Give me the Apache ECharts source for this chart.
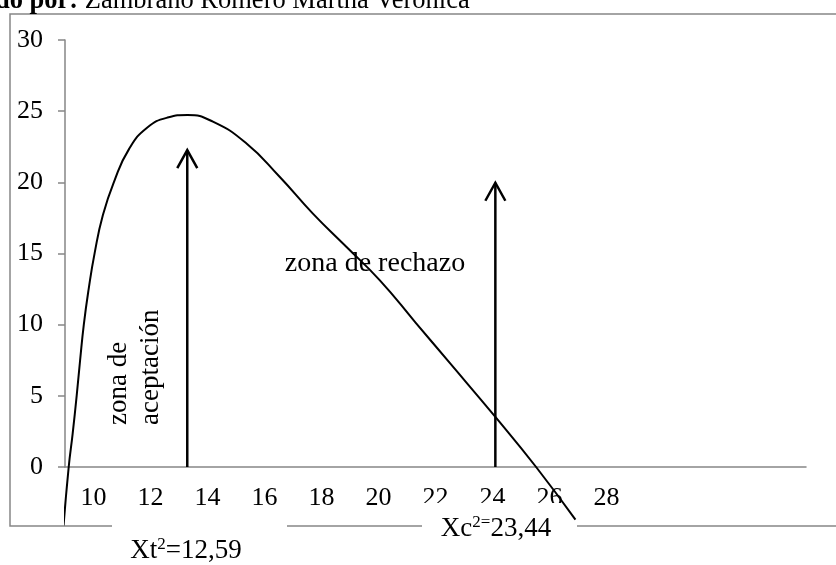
<!DOCTYPE html>
<html>
<head>
<meta charset="utf-8">
<script src="https://cdn.jsdelivr.net/npm/echarts@6/dist/echarts.min.js"></script>
<style>
  html, body { margin: 0; padding: 0; background: #fff; }
  #chart { width: 836px; height: 565px; }
</style>
</head>
<body>
<div id="chart"></div>
<script>
// categorias del eje x (las tres ultimas van vacias)
const categories = ['10', '12', '14', '16', '18', '20', '22', '24', '26', '28', '', '', ''];
// eje y
const yMin = 0, yMax = 30, yStep = 5;
// curva (x en unidades de las etiquetas)
const curveX = [8.95, 9.13, 9.27, 9.41, 9.53, 9.66, 9.83, 10.04, 10.33, 10.72, 11.25, 11.89, 12.6, 13.30, 14.19, 15.36, 16.53, 17.69, 18.87, 20.04, 21.3, 22.5, 24.10, 25.53, 26.91];
const curveY = [-4.1, 0, 2.37, 5.02, 7.5, 10.01, 12.5, 15.03, 17.7, 20.04, 22.35, 23.85, 24.55, 24.73, 24.26, 22.74, 20.39, 17.82, 15.47, 13.13, 10.15, 7.31, 3.52, 0, -3.70];
// flechas verticales
const arrowX = [13.29, 24.10];
const arrowTop = [22.26, 19.97];

const font = '"Liberation Serif", "Times New Roman", serif';
const gray = '#868686';

const chart = echarts.init(document.getElementById('chart'));
const option = {
  animation: false,
  grid: { left: 65, right: 30, top: 40, bottom: 98 },
  xAxis: [
    {
      type: 'category',
      data: categories,
      boundaryGap: true,
      axisLine: { lineStyle: { color: gray, width: 1.5 } },
      axisTick: { length: 7, lineStyle: { color: gray, width: 1.5 } },
      axisLabel: { color: '#000', fontFamily: font, fontSize: 26, margin: 18, interval: 0 },
      splitLine: { show: false }
    },
    {
      // eje oculto para la curva y las flechas
      type: 'value', min: 9, max: 35, show: false
    }
  ],
  yAxis: {
    type: 'value',
    min: yMin, max: yMax, interval: yStep,
    axisLine: { show: true, lineStyle: { color: gray, width: 1.5 } },
    axisTick: { show: true, length: 7, lineStyle: { color: gray, width: 1.5 } },
    axisLabel: { color: '#000', fontFamily: font, fontSize: 26, margin: 22 },
    splitLine: { show: false }
  },
  series: [
    {
      type: 'line',
      xAxisIndex: 1,
      data: curveX.map((x, i) => [x, curveY[i]]),
      smooth: 0.5,
      smoothConstraint: false,
      symbol: 'none',
      clip: false,
      lineStyle: { color: '#000', width: 2 },
      z: 3
    },
    {
      type: 'custom',
      xAxisIndex: 1,
      clip: false,
      data: arrowX.map((x, i) => [x, arrowTop[i]]),
      renderItem: function (params, api) {
        const base = api.coord([api.value(0), 0]);
        const tip = api.coord([api.value(0), api.value(1)]);
        return {
          type: 'group',
          children: [
            { type: 'line', shape: { x1: base[0], y1: base[1], x2: tip[0], y2: tip[1] },
              style: { stroke: '#000', lineWidth: 2.5 } },
            { type: 'polyline', shape: { points: [[tip[0] - 10, tip[1] + 18], [tip[0], tip[1]], [tip[0] + 10, tip[1] + 18]] },
              style: { stroke: '#000', fill: null, lineWidth: 2.5 } }
          ]
        };
      },
      z: 3
    }
  ],
  graphic: [
    // marco del grafico
    { type: 'rect', z: -1, shape: { x: 10, y: 14, width: 1000, height: 512 },
      style: { stroke: gray, fill: null, lineWidth: 1.5 } },
    // cuadros blancos de las etiquetas
    { type: 'rect', z: 1, shape: { x: 112, y: 518, width: 175, height: 47 }, style: { fill: '#fff' } },
    { type: 'rect', z: 1, shape: { x: 422, y: 503, width: 155, height: 62 }, style: { fill: '#fff' } },
    { type: 'text', z: 2, x: 186, y: 551,
      style: { text: '{n|Xt}{s|2}{n|=12,59}', align: 'center', verticalAlign: 'middle',
        rich: { n: { fontFamily: font, fontSize: 27, fill: '#000' },
                s: { fontFamily: font, fontSize: 17, fill: '#000', padding: [0, 0, 12, 0] } } } },
    { type: 'text', z: 2, x: 496, y: 529,
      style: { text: '{n|Xc}{s|2=}{n|23,44}', align: 'center', verticalAlign: 'middle',
        rich: { n: { fontFamily: font, fontSize: 27, fill: '#000' },
                s: { fontFamily: font, fontSize: 17, fill: '#000', padding: [0, 0, 12, 0] } } } },
    // textos dentro del area
    { type: 'text', z: 2, x: 375, y: 264,
      style: { text: 'zona de rechazo', fontFamily: font, fontSize: 28, fill: '#000', align: 'center', verticalAlign: 'middle' } },
    { type: 'text', z: 2, x: 135, y: 425, rotation: Math.PI / 2,
      style: { text: 'zona de\naceptación', fontFamily: font, fontSize: 27, lineHeight: 32, fill: '#000', align: 'left', verticalAlign: 'middle' } },
    // titulo cortado arriba
    { type: 'text', z: 2, x: -5, y: 1,
      style: { text: '{b|do por:} Zambrano Romero Martha Verónica', fontFamily: font, fontSize: 26.5, fill: '#000', align: 'left', verticalAlign: 'middle',
        rich: { b: { fontFamily: font, fontSize: 26.5, fontWeight: 'bold', fill: '#000' } } } }
  ]
};
chart.setOption(option);
</script>
</body>
</html>
